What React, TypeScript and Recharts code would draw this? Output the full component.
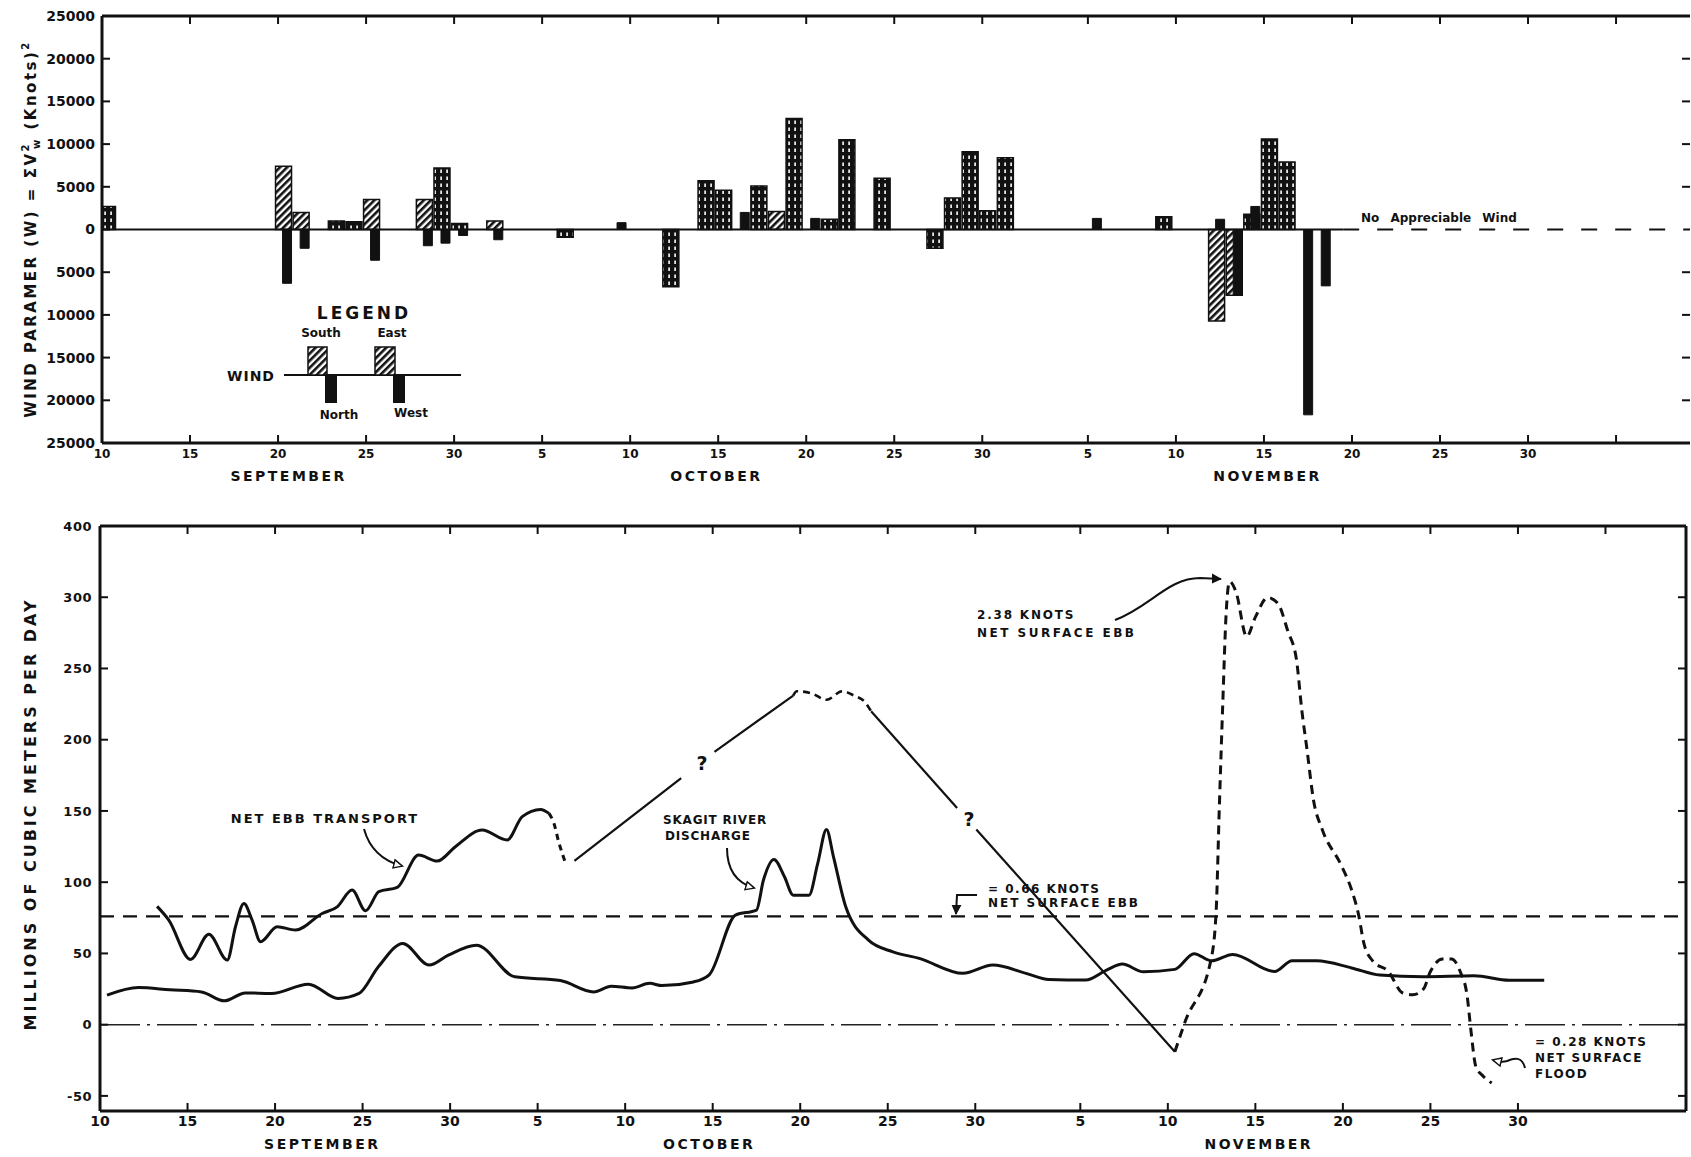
import React from 'react';
import { ComposedChart, Bar, Line, XAxis, YAxis, ReferenceLine, Legend } from 'recharts';

// Days are counted from 10 September (day 0); 1 Oct = day 21, 1 Nov = day 52.
const dayTicks = [0, 5, 10, 15, 20, 25, 30, 35, 40, 45, 50, 56, 61, 66, 71, 76, 81];
const dayTickLabels = ['10', '15', '20', '25', '30', '5', '10', '15', '20', '25', '30', '5', '10', '15', '20', '25', '30'];
const dec5 = 86;
const monthNames = ['SEPTEMBER', 'OCTOBER', 'NOVEMBER'];
const monthDaysTop = [10.6, 34.9, 66.2];
const monthDaysBottom = [12.7, 34.8, 66.2];

const windTicks = [-25000, -20000, -15000, -10000, -5000, 0, 5000, 10000, 15000, 20000, 25000];
const flowTicks = [-50, 0, 50, 100, 150, 200, 250, 300, 350];
const flowTickLabels = ['-50', '0', '50', '100', '150', '200', '250', '300', '400'];

// wind parameter per day, [day, value]
const hatchedBars: [number, number][] = [
  [10, 7400], [11, 2000], [15, 3500], [18, 3500], [22, 1000], [38, 2100], [63, -10700], [64, -7700],
];
const dottedBars: [number, number][] = [
  [0, 2700], [13, 1000], [14, 900], [19, 7200], [20, 700], [26, -900],
  [32, -6700], [34, 5700], [35, 4600], [37, 5100], [39, 13000], [41, 1200], [42, 10500], [44, 6000],
  [47, -2200], [48, 3700], [49, 9100], [50, 2200], [51, 8400],
  [60, 1500], [65, 1800], [66, 10600], [67, 7900],
];
const solidBars: [number, number][] = [
  [10, -6300], [11, -2200], [15, -3600], [18, -1900], [19, -1600], [20, -700], [22, -1200],
  [29, 800], [36, 2000], [40, 1300], [56, 1300],
  [63, 1200], [64, -7700], [65, 2700], [68, -21700], [69, -6600],
];
const noWindFrom = 70.5;

// millions of cubic meters per day, [day, value]
const skagitDischarge = [
  [0.4, 20.7], [2.2, 26], [4, 24.5], [5.8, 23], [7.1, 16.7], [8.3, 22.3], [9.8, 21.9], [11.9, 28.4],
  [13.6, 18.4], [14.8, 21.9], [15.9, 40.6], [17.3, 57], [18.8, 41.8], [19.9, 48.8], [21.5, 55.8],
  [23.7, 33.6], [26.3, 31], [28.2, 23], [29.2, 27], [30.4, 25.8], [31.4, 29], [32.1, 27.4], [33.9, 30],
  [34.8, 35], [36.3, 76.9], [37.5, 80.4], [37.9, 101.5], [38.5, 116], [39.1, 103.8], [39.6, 90.9],
  [40.5, 90.9], [41.0, 113.2], [41.5, 137], [41.9, 117.8], [42.6, 82.7], [43.9, 59.3], [45.3, 51.1],
  [46.8, 46.5], [49.3, 36], [51, 41.8], [52.9, 36], [54.2, 31.7], [56.3, 31.3], [57.5, 38.3],
  [58.4, 42.5], [59.6, 37.1], [61.4, 38.8], [62.5, 49.8], [63.5, 44.8], [64.7, 49.3], [67.1, 37.3],
  [68.1, 44.8], [69.5, 44.8], [71.5, 39.8], [73.1, 34.8], [75.6, 33.6], [78.5, 34.3], [80.5, 31.1],
  [82.5, 31.1],
];
const ebbMeasured = [
  [3.26, 83], [3.93, 73.4], [5.17, 45.8], [6.22, 63.5], [7.27, 45.3], [7.74, 68.7], [8.22, 85],
  [8.69, 73.4], [9.17, 58.2], [10.12, 68.7], [11.17, 66.4], [12.69, 78], [13.55, 82.7], [14.4, 94.5],
  [15.17, 79.9], [15.93, 93.3], [16.98, 96.3], [18.2, 119], [19.26, 114.8], [20.3, 124.9],
  [21.83, 136.6], [23.26, 129.6], [24.12, 146], [25.17, 151.1], [25.65, 148.3],
];
const ebbDrop = [[25.65, 148.3], [25.93, 141.3], [26.2, 128.4], [26.6, 113.2]];
const ebbRiseA = [[27.1, 115], [33.2, 173]];
const ebbRiseB = [[35.1, 191.5], [39.6, 231]];
const ebbTop = [[39.6, 231], [39.8, 234], [40.66, 232.5], [41.5, 228], [42.4, 234], [43.07, 231], [43.7, 226.4], [44.05, 220]];
const ebbFallA = [[44.05, 220], [48.96, 152]];
const ebbFallB = [[50.06, 137], [61.4, -19]];
const ebbNovember = [
  [61.4, -19], [62.0, 2.5], [63.45, 44.8], [63.75, 77], [63.94, 152], [64.14, 226], [64.33, 288.6],
  [64.53, 311], [64.9, 303.5], [65.5, 272.4], [66.0, 286], [66.7, 299.8], [67.27, 296], [67.86, 276],
  [68.35, 256], [68.65, 221], [68.94, 194], [69.33, 157], [69.82, 137], [70.9, 112], [71.5, 94.5],
  [71.9, 77], [72.2, 57], [72.7, 44.8], [73.6, 37.3], [74.4, 22.4], [75.0, 21], [75.6, 25],
  [76.0, 37.3], [76.7, 46], [77.2, 46], [77.7, 37.3], [78.1, 20], [78.3, -2.5], [78.6, -29.6],
  [79.0, -36], [79.5, -41],
];
const ebb066 = 76;

const FONT = '"DejaVu Sans", Verdana, sans-serif';
const INK = '#111';
const BOTTOM_TOP = 490;

const pick = (list: [number, number][], d: number) => {
  const hit = list.find(([day]) => day === d);
  return hit ? hit[1] : null;
};
const windTable = Array.from({ length: 90 }, (_, d) => ({
  day: d,
  hatched: pick(hatchedBars, d),
  dotted: pick(dottedBars, d),
  solid: pick(solidBars, d),
}));
const pts = (rows: number[][]) => rows.map(([day, v]) => ({ day, v }));

const axisLine = { stroke: INK, strokeWidth: 3 };
const tickLine = { stroke: INK, strokeWidth: 2 };
const bold = { fontFamily: FONT, fontWeight: 700, fill: INK };
const blank = () => '';
const dayLabel = (v: number) => {
  const i = dayTicks.indexOf(v);
  return i >= 0 ? dayTickLabels[i] : '';
};
const monthLabel = (days: number[]) => (v: number) => monthNames[days.indexOf(v)] ?? '';

function WindLegend() {
  const t = { ...bold, textAnchor: 'middle' as const, dominantBaseline: 'central' as const };
  return (
    <svg width={250} height={130} style={{ overflow: 'visible' }}>
      <text x={139} y={18} fontSize={17} letterSpacing={3} {...t}>LEGEND</text>
      <text x={96} y={38} fontSize={12} {...t}>South</text>
      <text x={167} y={38} fontSize={12} {...t}>East</text>
      <text x={26} y={81} fontSize={14} letterSpacing={1} {...t}>WIND</text>
      <line x1={59} x2={236} y1={80} y2={80} stroke={INK} strokeWidth={2} />
      <rect x={83} y={52} width={19} height={28} fill="url(#hatch)" stroke={INK} strokeWidth={1.5} />
      <rect x={100} y={80} width={12} height={28} fill={INK} />
      <rect x={150} y={52} width={20} height={28} fill="url(#hatch)" stroke={INK} strokeWidth={1.5} />
      <rect x={168} y={80} width={12} height={28} fill={INK} />
      <text x={114} y={120} fontSize={12} {...t}>North</text>
      <text x={186} y={118} fontSize={12} {...t}>West</text>
    </svg>
  );
}

function WindChart() {
  return (
    <ComposedChart width={1691} height={500} data={windTable} stackOffset="sign" barGap={-9}
      margin={{ top: 15, right: 0, bottom: 5, left: 0 }}>
      <defs>
        <pattern id="hatch" width={5} height={5} patternUnits="userSpaceOnUse" patternTransform="rotate(45)">
          <rect width={5} height={5} fill="#fff" />
          <rect width={2.6} height={5} fill={INK} />
        </pattern>
        <pattern id="dots" width={6} height={7} patternUnits="userSpaceOnUse">
          <rect width={6} height={7} fill={INK} />
          <rect x={2.3} y={1.5} width={1.6} height={3.5} fill="#fff" />
        </pattern>
      </defs>
      <XAxis xAxisId="days" type="number" dataKey="day" domain={[0, 90.2]} allowDataOverflow
        ticks={[...dayTicks, dec5]} interval={0} tickFormatter={dayLabel} height={22}
        tickSize={-8} tickMargin={14} axisLine={axisLine} tickLine={tickLine} tick={{ ...bold, fontSize: 12 }} />
      <XAxis xAxisId="months" type="number" dataKey="day" domain={[0, 90.2]} allowDataOverflow
        ticks={monthDaysTop} interval={0} tickFormatter={monthLabel(monthDaysTop)} height={30}
        tickSize={0} tickMargin={6} axisLine={false} tickLine={false}
        tick={{ ...bold, fontSize: 14, letterSpacing: 2.5 }} />
      <XAxis xAxisId="zbars" type="number" dataKey="day" domain={[-0.3, 89.9]} allowDataOverflow hide height={0} />
      <XAxis xAxisId="top" orientation="top" type="number" dataKey="day" domain={[0, 90.2]} allowDataOverflow
        ticks={[...dayTicks, dec5]} interval={0} height={1} tickFormatter={blank} tickSize={-8}
        axisLine={axisLine} tickLine={tickLine} />
      <YAxis yAxisId="left" type="number" domain={[-25000, 25000]} allowDataOverflow ticks={windTicks}
        interval={0} tickFormatter={(v: number) => String(Math.abs(v))} width={102} tickSize={-8}
        tickMargin={15} axisLine={axisLine} tickLine={tickLine} tick={{ ...bold, fontSize: 14 }} />
      <YAxis yAxisId="right" orientation="right" type="number" domain={[-25000, 25000]} allowDataOverflow
        ticks={windTicks.filter((v) => v !== 0 && Math.abs(v) !== 25000)} interval={0} width={1}
        tickFormatter={blank} tickSize={-8} axisLine={false} tickLine={tickLine} />
      <ReferenceLine xAxisId="days" yAxisId="left" segment={[{ x: 0, y: 0 }, { x: noWindFrom, y: 0 }]}
        stroke={INK} strokeWidth={2} />
      <ReferenceLine xAxisId="days" yAxisId="left" segment={[{ x: noWindFrom, y: 0 }, { x: 90.2, y: 0 }]}
        stroke={INK} strokeWidth={2} strokeDasharray="16 18" />
      <Bar xAxisId="zbars" yAxisId="left" dataKey="hatched" stackId="wide" barSize={16}
        fill="url(#hatch)" stroke={INK} strokeWidth={1.5} isAnimationActive={false} />
      <Bar xAxisId="zbars" yAxisId="left" dataKey="dotted" stackId="wide" barSize={16}
        fill="url(#dots)" stroke={INK} strokeWidth={1.5} isAnimationActive={false} />
      <Bar xAxisId="zbars" yAxisId="left" dataKey="solid" stackId="narrow" barSize={9}
        fill={INK} stroke={INK} strokeWidth={1} isAnimationActive={false} />
      <Legend content={<WindLegend />} layout="vertical" align="center" verticalAlign="middle"
        wrapperStyle={{ position: 'absolute', left: 225, top: 295, width: 250, height: 130 }} />
      <text x={1361} y={218} fontSize={12} wordSpacing={7} dominantBaseline="central" {...bold}>
        No Appreciable Wind
      </text>
      <text transform="rotate(-90 31 229)" x={31} y={229} textAnchor="middle" dominantBaseline="central"
        fontSize={15} letterSpacing={2.5} {...bold}>
        WIND PARAMER (W) = ΣV
        <tspan dy={-6} fontSize={10}>2</tspan>
        <tspan dy={11} dx={-7} fontSize={10}>w</tspan>
        <tspan dy={-5}> (Knots)</tspan>
        <tspan dy={-6} fontSize={10}>2</tspan>
      </text>
    </ComposedChart>
  );
}

function FlowChart() {
  const y = (v: number) => v - BOTTOM_TOP;
  const note = { ...bold, fontSize: 12, dominantBaseline: 'central' as const };
  const line = (rows: number[][], type: 'monotone' | 'linear', dash?: string, width = 3) => (
    <Line xAxisId="days" yAxisId="left" data={pts(rows)} dataKey="v" type={type} stroke={INK}
      strokeWidth={width} strokeDasharray={dash} dot={false} activeDot={false} isAnimationActive={false} />
  );
  return (
    <ComposedChart width={1691} height={667} margin={{ top: 35, right: 4, bottom: 0, left: 0 }}>
      <defs>
        <marker id="openHead" viewBox="0 0 12 12" refX={10} refY={6} markerWidth={11} markerHeight={11}
          orient="auto" markerUnits="userSpaceOnUse">
          <path d="M1,1.5 L10.5,6 L1,10.5 Z" fill="#fff" stroke={INK} strokeWidth={1.6} />
        </marker>
        <marker id="solidHead" viewBox="0 0 12 12" refX={10} refY={6} markerWidth={11} markerHeight={11}
          orient="auto" markerUnits="userSpaceOnUse">
          <path d="M0,0.5 L11,6 L0,11.5 Z" fill={INK} />
        </marker>
      </defs>
      <XAxis xAxisId="days" type="number" dataKey="day" domain={[0, 90.6]} allowDataOverflow
        ticks={dayTicks} interval={0} tickFormatter={dayLabel} height={22} tickSize={-8} tickMargin={13}
        axisLine={axisLine} tickLine={tickLine} tick={{ ...bold, fontSize: 14 }} />
      <XAxis xAxisId="months" type="number" dataKey="day" domain={[0, 90.6]} allowDataOverflow
        ticks={monthDaysBottom} interval={0} tickFormatter={monthLabel(monthDaysBottom)} height={24}
        tickSize={0} tickMargin={6} axisLine={false} tickLine={false}
        tick={{ ...bold, fontSize: 14, letterSpacing: 2.5 }} />
      <XAxis xAxisId="top" orientation="top" type="number" dataKey="day" domain={[0, 90.6]} allowDataOverflow
        ticks={[...dayTicks, dec5]} interval={0} height={1} tickFormatter={blank} tickSize={-8}
        axisLine={axisLine} tickLine={tickLine} />
      <YAxis yAxisId="left" type="number" domain={[-60.6, 350]} allowDataOverflow ticks={flowTicks}
        interval={0} tickFormatter={(v: number) => flowTickLabels[flowTicks.indexOf(v)]} width={100}
        tickSize={-8} tickMargin={16} axisLine={axisLine} tickLine={tickLine}
        tick={{ ...bold, fontSize: 13, letterSpacing: 0.5 }} />
      <YAxis yAxisId="right" orientation="right" type="number" domain={[-60.6, 350]} allowDataOverflow
        ticks={flowTicks} interval={0} width={1} tickFormatter={blank} tickSize={-8} axisLine={axisLine} tickLine={tickLine} />
      <ReferenceLine xAxisId="days" yAxisId="left" y={ebb066} stroke={INK} strokeWidth={2.2} strokeDasharray="14 9" />
      <ReferenceLine xAxisId="days" yAxisId="left" y={0} stroke="#222" strokeWidth={1.5} strokeDasharray="40 7 3 7" />
      {line(skagitDischarge, 'monotone')}
      {line(ebbMeasured, 'monotone')}
      {line(ebbDrop, 'monotone', '6 5')}
      {line(ebbRiseA, 'linear', undefined, 2.2)}
      {line(ebbRiseB, 'linear', undefined, 2.2)}
      {line(ebbTop, 'monotone', '7 5', 2.6)}
      {line(ebbFallA, 'linear', undefined, 2.2)}
      {line(ebbFallB, 'linear', undefined, 2.2)}
      {line(ebbNovember, 'monotone', '9 6')}

      <text x={325} y={y(818)} textAnchor="middle" letterSpacing={2} {...note} fontSize={13}>NET EBB TRANSPORT</text>
      <path d={`M 364 ${y(829)} Q 372 ${y(858)} 402 ${y(866)}`} fill="none" stroke={INK} strokeWidth={2} markerEnd="url(#openHead)" />

      <text x={663} y={y(820)} letterSpacing={0.8} {...note}>SKAGIT RIVER</text>
      <text x={665} y={y(836)} letterSpacing={0.8} {...note}>DISCHARGE</text>
      <path d={`M 727 ${y(848)} Q 727 ${y(880)} 754 ${y(888)}`} fill="none" stroke={INK} strokeWidth={2} markerEnd="url(#openHead)" />

      <text x={988} y={y(889)} letterSpacing={1.5} {...note}>= 0.66 KNOTS</text>
      <text x={988} y={y(903)} letterSpacing={2} {...note}>NET SURFACE EBB</text>
      <path d={`M 977 ${y(895)} L 957 ${y(895)} L 956 ${y(914)}`} fill="none" stroke={INK} strokeWidth={2} markerEnd="url(#solidHead)" />

      <text x={977} y={y(615)} letterSpacing={1.8} {...note}>2.38 KNOTS</text>
      <text x={977} y={y(633)} letterSpacing={2.5} {...note}>NET SURFACE EBB</text>
      <path d={`M 1115 ${y(620)} C 1150 ${y(607)} 1168 ${y(578)} 1200 ${y(578)} L 1221 ${y(579)}`} fill="none" stroke={INK} strokeWidth={2} markerEnd="url(#solidHead)" />

      <text x={1535} y={y(1042)} letterSpacing={1.5} {...note}>= 0.28 KNOTS</text>
      <text x={1535} y={y(1058)} letterSpacing={1.5} {...note}>NET SURFACE</text>
      <text x={1535} y={y(1074)} letterSpacing={1.5} {...note}>FLOOD</text>
      <path d={`M 1525 ${y(1068)} C 1522 ${y(1056)} 1514 ${y(1058)} 1507 ${y(1061)} C 1501 ${y(1063)} 1497 ${y(1061)} 1493 ${y(1060)}`} fill="none" stroke={INK} strokeWidth={2} markerEnd="url(#openHead)" />

      <text x={702} y={y(763)} textAnchor="middle" {...note} fontSize={19}>?</text>
      <text x={969} y={y(819)} textAnchor="middle" {...note} fontSize={19}>?</text>

      <text transform={`rotate(-90 30 ${y(814)})`} x={30} y={y(814)} textAnchor="middle" dominantBaseline="central"
        fontSize={16} letterSpacing={3} {...bold}>
        MILLIONS OF CUBIC METERS PER DAY
      </text>
    </ComposedChart>
  );
}

export default function App() {
  return (
    <div style={{ position: 'absolute', left: 0, top: 0, width: 1691, height: 1157, background: '#fff' }}>
      <div style={{ position: 'absolute', left: 0, top: 0 }}>
        <WindChart />
      </div>
      <div style={{ position: 'absolute', left: 0, top: BOTTOM_TOP }}>
        <FlowChart />
      </div>
    </div>
  );
}
